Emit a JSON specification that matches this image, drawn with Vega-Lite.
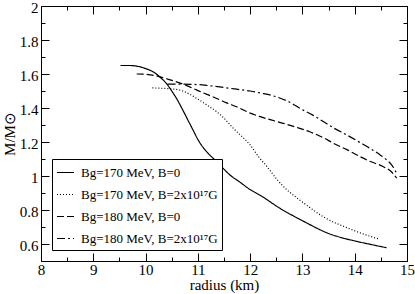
{
  "$schema": "https://vega.github.io/schema/vega-lite/v6.json",
  "width": 366,
  "height": 255,
  "autosize": {"type": "none"},
  "padding": {"left": 41, "top": 6, "right": 8, "bottom": 33},
  "background": "white",
  "config": {
    "view": {"stroke": null},
    "font": "Liberation Serif",
    "axis": {
      "domainColor": "black",
      "domainWidth": 1,
      "tickColor": "black",
      "tickWidth": 1,
      "grid": false,
      "labelFont": "Liberation Serif",
      "labelFontSize": 15,
      "labelColor": "black",
      "titleFont": "Liberation Serif",
      "titleFontSize": 15,
      "titleFontWeight": "normal",
      "titleColor": "black"
    }
  },
  "data": {
    "values": [
      {"series": "S1", "r": 9.52, "m": 1.650},
      {"series": "S1", "r": 9.70, "m": 1.650},
      {"series": "S1", "r": 9.85, "m": 1.645},
      {"series": "S1", "r": 10.00, "m": 1.632},
      {"series": "S1", "r": 10.15, "m": 1.612},
      {"series": "S1", "r": 10.30, "m": 1.575},
      {"series": "S1", "r": 10.40, "m": 1.544},
      {"series": "S1", "r": 10.50, "m": 1.500},
      {"series": "S1", "r": 10.60, "m": 1.452},
      {"series": "S1", "r": 10.70, "m": 1.395},
      {"series": "S1", "r": 10.80, "m": 1.335},
      {"series": "S1", "r": 10.90, "m": 1.275},
      {"series": "S1", "r": 11.00, "m": 1.215},
      {"series": "S1", "r": 11.10, "m": 1.168},
      {"series": "S1", "r": 11.20, "m": 1.132},
      {"series": "S1", "r": 11.36, "m": 1.085},
      {"series": "S1", "r": 11.50, "m": 1.040},
      {"series": "S1", "r": 11.61, "m": 1.007},
      {"series": "S1", "r": 11.80, "m": 0.965},
      {"series": "S1", "r": 12.00, "m": 0.920},
      {"series": "S1", "r": 12.20, "m": 0.885},
      {"series": "S1", "r": 12.57, "m": 0.810},
      {"series": "S1", "r": 13.00, "m": 0.737},
      {"series": "S1", "r": 13.50, "m": 0.662},
      {"series": "S1", "r": 14.00, "m": 0.618},
      {"series": "S1", "r": 14.30, "m": 0.598},
      {"series": "S1", "r": 14.61, "m": 0.578},

      {"series": "S2", "r": 10.13, "m": 1.518},
      {"series": "S2", "r": 10.37, "m": 1.515},
      {"series": "S2", "r": 10.66, "m": 1.505},
      {"series": "S2", "r": 10.85, "m": 1.480},
      {"series": "S2", "r": 10.98, "m": 1.456},
      {"series": "S2", "r": 11.20, "m": 1.412},
      {"series": "S2", "r": 11.36, "m": 1.378},
      {"series": "S2", "r": 11.50, "m": 1.340},
      {"series": "S2", "r": 11.68, "m": 1.280},
      {"series": "S2", "r": 11.85, "m": 1.230},
      {"series": "S2", "r": 12.00, "m": 1.183},
      {"series": "S2", "r": 12.16, "m": 1.114},
      {"series": "S2", "r": 12.32, "m": 1.056},
      {"series": "S2", "r": 12.50, "m": 0.985},
      {"series": "S2", "r": 12.63, "m": 0.940},
      {"series": "S2", "r": 12.90, "m": 0.870},
      {"series": "S2", "r": 13.14, "m": 0.815},
      {"series": "S2", "r": 13.40, "m": 0.760},
      {"series": "S2", "r": 13.90, "m": 0.690},
      {"series": "S2", "r": 14.20, "m": 0.655},
      {"series": "S2", "r": 14.48, "m": 0.628},

      {"series": "S3", "r": 9.83, "m": 1.600},
      {"series": "S3", "r": 10.00, "m": 1.598},
      {"series": "S3", "r": 10.21, "m": 1.589},
      {"series": "S3", "r": 10.40, "m": 1.572},
      {"series": "S3", "r": 10.59, "m": 1.554},
      {"series": "S3", "r": 10.80, "m": 1.530},
      {"series": "S3", "r": 10.98, "m": 1.505},
      {"series": "S3", "r": 11.20, "m": 1.477},
      {"series": "S3", "r": 11.36, "m": 1.456},
      {"series": "S3", "r": 11.55, "m": 1.430},
      {"series": "S3", "r": 11.74, "m": 1.407},
      {"series": "S3", "r": 12.00, "m": 1.370},
      {"series": "S3", "r": 12.19, "m": 1.349},
      {"series": "S3", "r": 12.40, "m": 1.330},
      {"series": "S3", "r": 12.63, "m": 1.310},
      {"series": "S3", "r": 12.90, "m": 1.285},
      {"series": "S3", "r": 13.14, "m": 1.260},
      {"series": "S3", "r": 13.40, "m": 1.225},
      {"series": "S3", "r": 13.59, "m": 1.193},
      {"series": "S3", "r": 13.85, "m": 1.155},
      {"series": "S3", "r": 14.10, "m": 1.114},
      {"series": "S3", "r": 14.30, "m": 1.085},
      {"series": "S3", "r": 14.54, "m": 1.056},
      {"series": "S3", "r": 14.70, "m": 1.025},
      {"series": "S3", "r": 14.80, "m": 0.988},

      {"series": "S4", "r": 10.42, "m": 1.540},
      {"series": "S4", "r": 10.70, "m": 1.540},
      {"series": "S4", "r": 10.98, "m": 1.538},
      {"series": "S4", "r": 11.20, "m": 1.532},
      {"series": "S4", "r": 11.42, "m": 1.524},
      {"series": "S4", "r": 11.70, "m": 1.512},
      {"series": "S4", "r": 12.00, "m": 1.500},
      {"series": "S4", "r": 12.20, "m": 1.488},
      {"series": "S4", "r": 12.50, "m": 1.466},
      {"series": "S4", "r": 12.75, "m": 1.435},
      {"series": "S4", "r": 12.95, "m": 1.398},
      {"series": "S4", "r": 13.20, "m": 1.358},
      {"series": "S4", "r": 13.40, "m": 1.320},
      {"series": "S4", "r": 13.60, "m": 1.282},
      {"series": "S4", "r": 13.85, "m": 1.241},
      {"series": "S4", "r": 14.10, "m": 1.197},
      {"series": "S4", "r": 14.29, "m": 1.163},
      {"series": "S4", "r": 14.45, "m": 1.132},
      {"series": "S4", "r": 14.61, "m": 1.095},
      {"series": "S4", "r": 14.72, "m": 1.060},
      {"series": "S4", "r": 14.80, "m": 1.017}
    ]
  },
  "layer": [
    {
      "mark": {"type": "line", "interpolate": "monotone", "color": "black", "strokeWidth": 1.2},
      "encoding": {
        "x": {
          "field": "r", "type": "quantitative",
          "scale": {"domain": [8, 15], "nice": false, "zero": false},
          "axis": {
            "title": "radius (km)",
            "titleFont": "Liberation Serif",
            "titleFontSize": 15,
            "titleFontWeight": "normal",
            "titlePadding": -4,
            "values": [8, 8.5, 9, 9.5, 10, 10.5, 11, 11.5, 12, 12.5, 13, 13.5, 14, 14.5, 15],
            "labelExpr": "datum.value % 1 === 0 ? '' + datum.value : ''",
            "tickSize": {"condition": {"test": "datum.value % 1 === 0", "value": -8}, "value": -4},
            "labelPadding": 9,
            "labelFlush": false,
            "labelOverlap": false
          }
        },
        "y": {
          "field": "m", "type": "quantitative",
          "scale": {"domain": [0.5, 2], "nice": false, "zero": false},
          "axis": {
            "title": "M/M⊙",
            "titleFont": "Liberation Serif",
            "titleFontSize": 15,
            "titleFontWeight": "normal",
            "titlePadding": 2,
            "values": [0.5, 0.6, 0.7, 0.8, 0.9, 1, 1.1, 1.2, 1.3, 1.4, 1.5, 1.6, 1.7, 1.8, 1.9, 2],
            "labelExpr": "abs(datum.value * 5 - round(datum.value * 5)) < 0.001 ? '' + datum.value : ''",
            "tickSize": {"condition": {"test": "abs(datum.value * 5 - round(datum.value * 5)) < 0.001", "value": -8}, "value": -4},
            "labelPadding": 11,
            "labelOffset": 1.5,
            "labelFlush": false,
            "labelOverlap": false
          }
        },
        "detail": {"field": "series"},
        "strokeDash": {
          "field": "series", "type": "nominal",
          "scale": {
            "domain": ["S1", "S2", "S3", "S4"],
            "range": [[1, 0], [1, 2], [7, 3], [8, 3, 2, 3]]
          },
          "legend": {
            "title": null,
            "orient": "none",
            "legendX": 11,
            "legendY": 153,
            "strokeColor": "black",
            "fillColor": "white",
            "padding": 4,
            "rowPadding": 5,
            "symbolType": "stroke",
            "symbolSize": 289,
            "symbolStrokeColor": "black",
            "symbolStrokeWidth": 1.2,
            "labelFont": "Liberation Serif",
            "labelFontSize": 13,
            "labelColor": "black",
            "labelLimit": 0,
            "labelOffset": 6,
            "labelExpr": "{'S1': 'Bg=170 MeV, B=0', 'S2': 'Bg=170 MeV, B=2x10¹⁷G', 'S3': 'Bg=180 MeV, B=0', 'S4': 'Bg=180 MeV, B=2x10¹⁷G'}[datum.label]"
          }
        }
      }
    },
    {
      "mark": {"type": "line", "opacity": 0},
      "encoding": {
        "x": {
          "field": "r", "type": "quantitative",
          "axis": {
            "orient": "top",
            "title": null,
            "labels": false,
            "values": [8, 8.5, 9, 9.5, 10, 10.5, 11, 11.5, 12, 12.5, 13, 13.5, 14, 14.5, 15],
            "tickSize": {"condition": {"test": "datum.value % 1 === 0", "value": -8}, "value": -4}
          }
        },
        "y": {
          "field": "m", "type": "quantitative",
          "axis": {
            "orient": "right",
            "title": null,
            "labels": false,
            "values": [0.5, 0.6, 0.7, 0.8, 0.9, 1, 1.1, 1.2, 1.3, 1.4, 1.5, 1.6, 1.7, 1.8, 1.9, 2],
            "tickSize": {"condition": {"test": "abs(datum.value * 5 - round(datum.value * 5)) < 0.001", "value": -8}, "value": -4}
          }
        },
        "detail": {"field": "series"}
      }
    }
  ],
  "resolve": {"axis": {"x": "independent", "y": "independent"}}
}
